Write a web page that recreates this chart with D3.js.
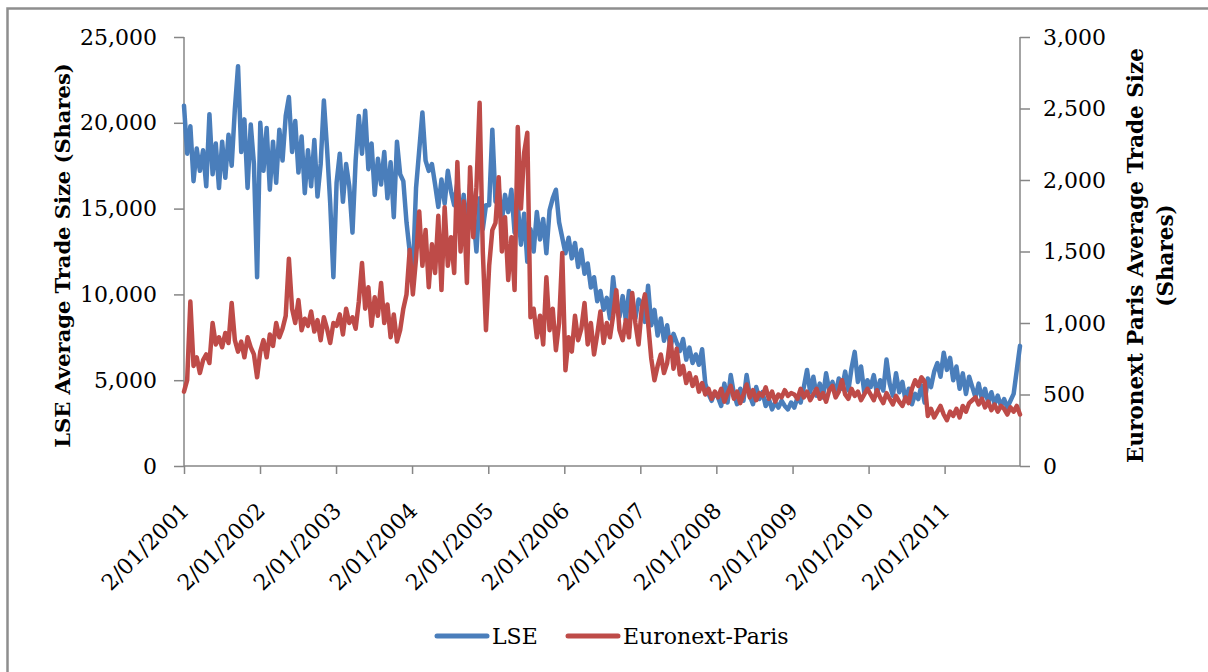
<!DOCTYPE html>
<html>
<head>
<meta charset="utf-8">
<script src="https://cdn.jsdelivr.net/npm/d3@7"></script>
<style>
  body { margin: 0; background: #fff; }
  text { font-family: "DejaVu Serif", serif; fill: #000; }
</style>
</head>
<body>
<div id="chart"></div>
<script>
// half-monthly readings, 2001 - 2011
const lse = [
  // 2001
  21000, 18200, 19800, 16600, 18500, 17200, 18400, 16300, 20500, 17000, 18800, 16200, 18900, 16800, 19300, 17500, 20800, 23300, 18300, 20200, 16200, 19900, 17600, 11000,
  // 2002
  20000, 17200, 19700, 16100, 18900, 16500, 19600, 17800, 20400, 21500, 18300, 20100, 17100, 19200, 15900, 18400, 16300, 19000, 15700, 17600, 21300, 18500, 15300, 11000,
  // 2003
  16500, 18200, 15400, 17600, 16300, 13600, 17800, 20400, 18200, 20700, 17300, 18800, 15800, 17900, 16400, 18300, 15600, 17700, 14500, 18900, 17000, 16600, 14200, 12500,
  // 2004
  11300, 16200, 18400, 20600, 17800, 17200, 17600, 16400, 15100, 16700, 15300, 17200, 16000, 15200, 16500, 14200, 15800, 13400, 16400, 14700, 12500, 15600, 13800, 15200,
  // 2005
  15200, 19600, 15400, 16200, 14300, 15800, 14800, 16100, 13600, 15200, 12900, 14700, 11900, 13800, 12500, 14800, 13200, 14400, 12400, 14900, 15600, 16100, 14200, 13300,
  // 2006
  12400, 13300, 12100, 13000, 11600, 12600, 11200, 11800, 10400, 11000, 9600, 10200, 9100, 9800, 8600, 11000, 9300, 8700, 9900, 8500, 10200, 9100, 8600, 9700,
  // 2007
  9500, 8400, 10500, 8200, 9100, 7600, 8600, 7300, 8200, 6900, 7700, 7200, 6700, 7400, 6200, 6900, 6000, 6500, 5900, 6800, 4800, 4200, 3800, 4300,
  // 2008
  4000, 3500, 4800, 3700, 5300, 4200, 3600, 4500, 3800, 5300, 4100, 3600, 4600, 3900, 4300, 3500, 3900, 3300, 3700, 3400, 3800, 3500, 3300, 3700,
  // 2009
  3400, 4000, 3700, 4600, 5600, 4300, 5200, 4100, 4800, 4000, 5400, 4400, 4900, 4200, 5100, 4500, 5500, 4400, 5700, 6650, 4900, 5800, 4300, 5000,
  // 2010
  4600, 5300, 4200, 5000, 4400, 6200, 4800, 4100, 5400, 4300, 4900, 3800, 4500, 3600, 4200, 3900, 4700, 3700, 5100, 4600, 5500, 6000, 5200, 6600,
  // 2011
  5600, 6300, 5000, 5800, 4500, 5400, 4200, 5200, 4600, 4000, 4800, 3900, 4500, 3700, 4300, 3600, 4100, 3500, 3900, 3400, 3800, 4200, 5600, 7000
];

const paris = [
  // 2001
  520, 600, 1150, 700, 760, 650, 740, 780, 720, 1000, 850, 900, 830, 930, 860, 1140, 880, 800, 870, 760, 900, 830, 780, 620,
  // 2002
  800, 880, 760, 920, 840, 1000, 900, 960, 1050, 1450, 1100, 1000, 1160, 950, 1030, 980, 1080, 940, 1020, 880, 1040, 960, 860, 1000,
  // 2003
  980, 1060, 920, 1100, 1000, 1040, 960, 1150, 1420, 1100, 1250, 980, 1180, 1050, 1280, 1000, 1130, 900, 1060, 870, 950, 1100, 1200, 1510,
  // 2004
  1200, 1450, 1780, 1400, 1650, 1250, 1550, 1350, 1750, 1230, 1810, 1400, 1600, 1350, 2125, 1500, 1850, 1280, 2090, 1600, 1950, 2540, 1500, 950,
  // 2005
  1400, 1650, 1700, 2020, 1500, 1740, 1300, 1600, 1230, 2370, 1800, 2190, 2330, 1040, 1100, 900, 1050, 850, 1320, 950, 1100, 810, 1000, 1490,
  // 2006
  670, 900, 800, 1050, 880, 960, 1140, 850, 1000, 780, 920, 1080, 860, 1000, 900, 1050, 1230, 950, 880, 1020, 900, 1210, 1000, 850,
  // 2007
  1100, 1200, 1000, 750, 600, 700, 780, 650, 720, 900, 680, 820, 640, 700, 580, 650, 560, 620, 520, 580, 500, 540, 470, 520,
  // 2008
  480, 540, 450, 510, 560, 470, 520, 440, 500, 570, 480, 530, 460, 510, 490, 550, 470, 520, 450, 500, 480, 530, 490, 510,
  // 2009
  500, 470, 540, 480, 520, 460, 500, 540, 470, 510, 450, 530, 560, 480, 520, 600, 500, 470, 540, 490, 520, 460, 500, 540,
  // 2010
  500, 460, 530, 480, 440, 510, 470, 430, 490, 450, 420, 480, 440, 540, 600, 560, 620, 590, 350, 400, 340, 380, 420, 360,
  // 2011
  320, 380, 350, 400, 340, 420, 380, 440, 460, 480, 430, 470, 410, 450, 390, 430, 380, 420, 400, 360, 410, 380, 420, 360
];

const firstDay = "2/01/2001";
const lastDay = "30/12/2011";
const tickLabels = ["2/01/2001", "2/01/2002", "2/01/2003", "2/01/2004", "2/01/2005", "2/01/2006",
                    "2/01/2007", "2/01/2008", "2/01/2009", "2/01/2010", "2/01/2011"];
const leftTicks = [0, 5000, 10000, 15000, 20000, 25000];
const rightTicks = [0, 500, 1000, 1500, 2000, 2500, 3000];
const seriesNames = ["LSE", "Euronext-Paris"];

// layout
const svgWidth = 1208;
const svgHeight = 672;
const margin = { top: 37, right: 188, bottom: 206, left: 184 };
const width = svgWidth - margin.left - margin.right;
const height = svgHeight - margin.top - margin.bottom;

const blue = "#4a7ebb";
const red = "#be4b48";
const axisColor = "#868686";

const parseDay = d3.timeParse("%d/%m/%Y");
const t0 = parseDay(firstDay);
const t1 = parseDay(lastDay);

// points sit evenly between first and last trading day
const dateAt = (i, n) => new Date(+t0 + (t1 - t0) * i / (n - 1));
const lseData = lse.map((v, i) => ({ date: dateAt(i, lse.length), v }));
const parisData = paris.map((v, i) => ({ date: dateAt(i, paris.length), v }));

const svg = d3.select("#chart")
  .append("svg")
  .attr("width", svgWidth)
  .attr("height", svgHeight);

// outer frame (cut off on the right and bottom)
svg.append("rect")
  .attr("x", 7.5).attr("y", 8.5)
  .attr("width", 1400).attr("height", 900)
  .attr("fill", "none")
  .attr("stroke", "#8e8e8e")
  .attr("stroke-width", 2.5);

const chartGroup = svg.append("g")
  .attr("transform", `translate(${margin.left}, ${margin.top})`);

const x = d3.scaleTime().domain([t0, t1]).range([0, width]);
const yLeft = d3.scaleLinear().domain([0, 25000]).range([height, 0]);
const yRight = d3.scaleLinear().domain([0, 3000]).range([height, 0]);

const fmt = d3.format(",");

// axes
const leftAxis = d3.axisLeft(yLeft).tickValues(leftTicks).tickFormat(fmt).tickSize(10).tickPadding(17);
const rightAxis = d3.axisRight(yRight).tickValues(rightTicks).tickFormat(fmt).tickSize(10).tickPadding(13);
const bottomAxis = d3.axisBottom(x).tickValues(tickLabels.map(parseDay)).tickFormat("").tickSize(8);

function styleAxis(g) {
  g.select(".domain").attr("stroke", axisColor).attr("stroke-width", 1.5);
  g.selectAll(".tick line").attr("stroke", axisColor).attr("stroke-width", 1.5);
  g.selectAll(".tick text").style("font-size", "22px").attr("fill", "#000");
}

chartGroup.append("g").call(leftAxis).call(styleAxis)
  .call(g => g.select(".domain").attr("d", `M0,${height}V0`));

chartGroup.append("g")
  .attr("transform", `translate(${width}, 0)`)
  .call(rightAxis).call(styleAxis)
  .call(g => g.select(".domain").attr("d", `M0,${height}V0`));

const xAxis = chartGroup.append("g")
  .attr("transform", `translate(0, ${height})`)
  .call(bottomAxis).call(styleAxis)
  .call(g => g.select(".domain").attr("d", `M0,0H${width}`));

// rotated date labels
xAxis.selectAll(".tick")
  .append("text")
  .attr("text-anchor", "end")
  .attr("transform", "translate(6, 46) rotate(-45)")
  .style("font-size", "22px")
  .text((d, i) => tickLabels[i]);

// lines
const lineL = d3.line().x(d => x(d.date)).y(d => yLeft(d.v));
const lineR = d3.line().x(d => x(d.date)).y(d => yRight(d.v));

chartGroup.append("path")
  .datum(lseData)
  .attr("d", lineL)
  .attr("fill", "none")
  .attr("stroke", blue)
  .attr("stroke-width", 4.5)
  .attr("stroke-linejoin", "round")
  .attr("stroke-linecap", "round");

chartGroup.append("path")
  .datum(parisData)
  .attr("d", lineR)
  .attr("fill", "none")
  .attr("stroke", red)
  .attr("stroke-width", 4.5)
  .attr("stroke-linejoin", "round")
  .attr("stroke-linecap", "round");

// axis titles
svg.append("text")
  .attr("transform", `translate(70, ${margin.top + height / 2 + 4}) rotate(-90)`)
  .attr("text-anchor", "middle")
  .style("font-weight", "bold")
  .style("font-size", "21px")
  .text("LSE  Average Trade Size (Shares)");

const rTitle = svg.append("text")
  .attr("transform", `translate(1143, ${margin.top + height / 2 + 4}) rotate(-90)`)
  .attr("text-anchor", "middle")
  .style("font-weight", "bold")
  .style("font-size", "21.5px");
rTitle.append("tspan").attr("x", 0).attr("dy", 0).text("Euronext Paris Average Trade Size");
rTitle.append("tspan").attr("x", 0).attr("dy", 30).text("(Shares)");

// legend
const legend = svg.append("g").attr("transform", "translate(435, 636)");
const legendItems = [
  { name: seriesNames[0], color: blue, x: 0 },
  { name: seriesNames[1], color: red, x: 131 }
];
legendItems.forEach(item => {
  legend.append("line")
    .attr("x1", item.x + 2).attr("x2", item.x + 52)
    .attr("y1", 0).attr("y2", 0)
    .attr("stroke", item.color)
    .attr("stroke-width", 5)
    .attr("stroke-linecap", "round");
  legend.append("text")
    .attr("x", item.x + 57)
    .attr("y", 8)
    .style("font-size", "22px")
    .text(item.name);
});
</script>
</body>
</html>
